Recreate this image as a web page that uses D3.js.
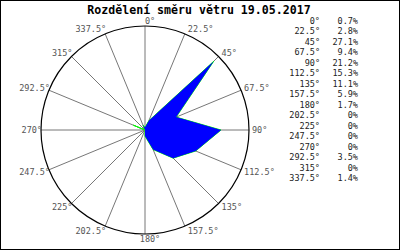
<!DOCTYPE html>
<html>
<head>
<meta charset="utf-8">
<script src="https://cdn.jsdelivr.net/npm/d3@7"></script>
<style>
  body { margin: 0; background: #fff; }
  svg { display: block; }
</style>
</head>
<body>
<div id="chart"></div>
<script>
// wind direction distribution
const title = 'Rozdělení směru větru 19.05.2017';
const directions = [0, 22.5, 45, 67.5, 90, 112.5, 135, 157.5, 180, 202.5, 225, 247.5, 270, 292.5, 315, 337.5];
const percents = [0.7, 2.8, 27.1, 9.4, 21.2, 15.3, 11.1, 5.9, 1.7, 0, 0, 0, 0, 3.5, 0, 1.4];

const svgWidth = 400;
const svgHeight = 250;
const cx = 145, cy = 130, radius = 104;
const mono = '"DejaVu Sans Mono", monospace';

const svg = d3.select('#chart')
    .append('svg')
    .attr('width', svgWidth)
    .attr('height', svgHeight);

svg.append('rect')
    .attr('x', 0.5).attr('y', 0.5)
    .attr('width', svgWidth - 1).attr('height', svgHeight - 1)
    .attr('fill', '#fff')
    .attr('stroke', '#000');

svg.append('text')
    .attr('x', 199)
    .attr('y', 14)
    .attr('text-anchor', 'middle')
    .style('font-family', mono)
    .style('font-weight', 'bold')
    .style('font-size', '11.6px')
    .text(title);

const g = svg.append('g')
    .attr('transform', `translate(${cx},${cy})`);

const rScale = d3.scaleLinear()
    .domain([0, 29])
    .range([0, radius]);

const rad = d => d * Math.PI / 180;

// spokes
g.selectAll('line.spoke')
    .data(directions)
    .enter()
    .append('line')
    .attr('class', 'spoke')
    .attr('x1', 0).attr('y1', 0)
    .attr('x2', d => radius * Math.sin(rad(d)))
    .attr('y2', d => -radius * Math.cos(rad(d)))
    .attr('stroke', '#777')
    .attr('stroke-width', 1);

g.append('circle')
    .attr('r', radius)
    .attr('fill', 'none')
    .attr('stroke', '#000')
    .attr('stroke-width', 1.2);

// rose polygon
const line = d3.lineRadial()
    .angle((d, i) => rad(directions[i]))
    .radius(d => rScale(d))
    .curve(d3.curveLinearClosed);

g.append('path')
    .attr('d', line(percents))
    .attr('fill', '#0000ff')
    .attr('stroke', '#00ff00')
    .attr('stroke-width', 1);

g.append('path')
    .attr('d', line(percents))
    .attr('fill', '#0000ff');

// direction labels
g.selectAll('text.dir')
    .data(directions)
    .enter()
    .append('text')
    .attr('class', 'dir')
    .attr('x', d => {
        const s = Math.sin(rad(d));
        const px = radius * s;
        if (Math.abs(s) < 0.1) return px + 5;
        return s > 0 ? px + 3 : px + 1;
    })
    .attr('y', d => -radius * Math.cos(rad(d)) - Math.cos(rad(d)) * 5)
    .attr('dy', '0.35em')
    .attr('text-anchor', d => {
        const s = Math.sin(rad(d));
        if (Math.abs(s) < 0.1) return 'middle';
        return s > 0 ? 'start' : 'end';
    })
    .style('font-family', mono)
    .style('font-size', '8.5px')
    .attr('fill', '#555')
    .text(d => d + '°');

// legend
const legend = svg.append('g');
const rowY = d3.scaleLinear().domain([0, 15]).range([21, 178.5]);

legend.selectAll('text.ldir')
    .data(directions)
    .enter()
    .append('text')
    .attr('class', 'ldir')
    .attr('x', 320)
    .attr('y', (d, i) => rowY(i))
    .attr('dy', '0.35em')
    .attr('text-anchor', 'end')
    .style('font-family', mono)
    .style('font-size', '8.5px')
    .attr('fill', '#222')
    .text(d => d + '°');

legend.selectAll('text.lval')
    .data(percents)
    .enter()
    .append('text')
    .attr('class', 'lval')
    .attr('x', 358)
    .attr('y', (d, i) => rowY(i))
    .attr('dy', '0.35em')
    .attr('text-anchor', 'end')
    .style('font-family', mono)
    .style('font-size', '8.5px')
    .attr('fill', '#222')
    .text(d => d + '%');
</script>
</body>
</html>
